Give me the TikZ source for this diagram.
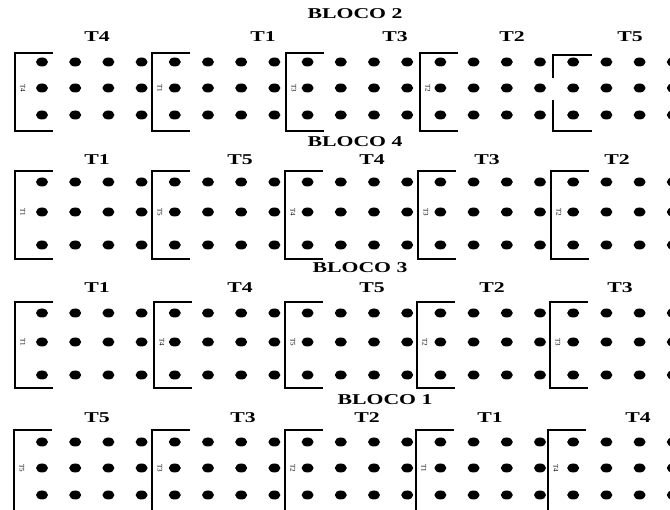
\documentclass[tikz,border=0pt]{standalone}
\usepackage{fontspec}
\setmainfont{Liberation Serif}

\begin{document}
\begin{tikzpicture}[
    x=1pt,
    y=-1pt,
    titulo/.style={font=\fontsize{15}{15}\selectfont\bfseries,xscale=1.45,inner sep=0pt},
    trat/.style={font=\fontsize{15}{15}\selectfont\bfseries,xscale=1.45,inner sep=0pt},
    rotulo/.style={font=\fontsize{7}{7}\selectfont,rotate=-90,inner sep=0pt},
    cova/.style={fill=black},
    parcela/.style={line width=1.3pt}
]
    \useasboundingbox (0,0) rectangle (670,510);

    % Bloco 2
    \node[titulo] (b2) at (355,14) {BLOCO 2};
    \foreach \t/\x [count=\i] in {T4/97,T1/263,T3/395,T2/512,T5/630}
        \node[trat] (b2t\i) at (\x,37) {\t};
    \foreach \y in {62,88,115}
        \foreach \c in {0,...,19}
            \fill[cova] (42+33.2*\c,\y) ellipse (6 and 4.5);
    \foreach \x/\r [count=\i] in {15/T4,152/T1,286/T3,420/T2}{
        \draw[parcela] (\x+38,53) -- (\x,53) -- (\x,131) -- (\x+38,131);
        \node[rotulo] (b2r\i) at (\x+8,88) {\r};
    }
    \draw[parcela] (592,55) -- (553,55) -- (553,78);
    \draw[parcela] (553,100) -- (553,131) -- (592,131);

    % Bloco 4
    \node[titulo] (b4) at (355,142) {BLOCO 4};
    \foreach \t/\x [count=\i] in {T1/97,T5/240,T4/372,T3/487,T2/617}
        \node[trat] (b4t\i) at (\x,160) {\t};
    \foreach \y in {182,212,245}
        \foreach \c in {0,...,19}
            \fill[cova] (42+33.2*\c,\y) ellipse (6 and 4.5);
    \foreach \x/\r [count=\i] in {15/T1,152/T5,285/T4,418/T3,551/T2}{
        \draw[parcela] (\x+38,171) -- (\x,171) -- (\x,259) -- (\x+38,259);
        \node[rotulo] (b4r\i) at (\x+8,212) {\r};
    }

    % Bloco 3
    \node[titulo] (b3) at (360,268) {BLOCO 3};
    \foreach \t/\x [count=\i] in {T1/97,T4/240,T5/372,T2/492,T3/620}
        \node[trat] (b3t\i) at (\x,288) {\t};
    \foreach \y in {313,342,375}
        \foreach \c in {0,...,19}
            \fill[cova] (42+33.2*\c,\y) ellipse (6 and 4.5);
    \foreach \x/\r [count=\i] in {15/T1,154/T4,285/T5,417/T2,550/T3}{
        \draw[parcela] (\x+38,302) -- (\x,302) -- (\x,388) -- (\x+38,388);
        \node[rotulo] (b3r\i) at (\x+8,342) {\r};
    }

    % Bloco 1
    \node[titulo] (b1) at (385,400) {BLOCO 1};
    \foreach \t/\x [count=\i] in {T5/97,T3/243,T2/367,T1/490,T4/638}
        \node[trat] (b1t\i) at (\x,418) {\t};
    \foreach \y in {442,468,495}
        \foreach \c in {0,...,19}
            \fill[cova] (42+33.2*\c,\y) ellipse (6 and 4.5);
    \foreach \x/\r [count=\i] in {14/T5,152/T3,285/T2,416/T1,548/T4}{
        \draw[parcela] (\x+38,430) -- (\x,430) -- (\x,520);
        \node[rotulo] (b1r\i) at (\x+8,468) {\r};
    }
\end{tikzpicture}
\end{document}
